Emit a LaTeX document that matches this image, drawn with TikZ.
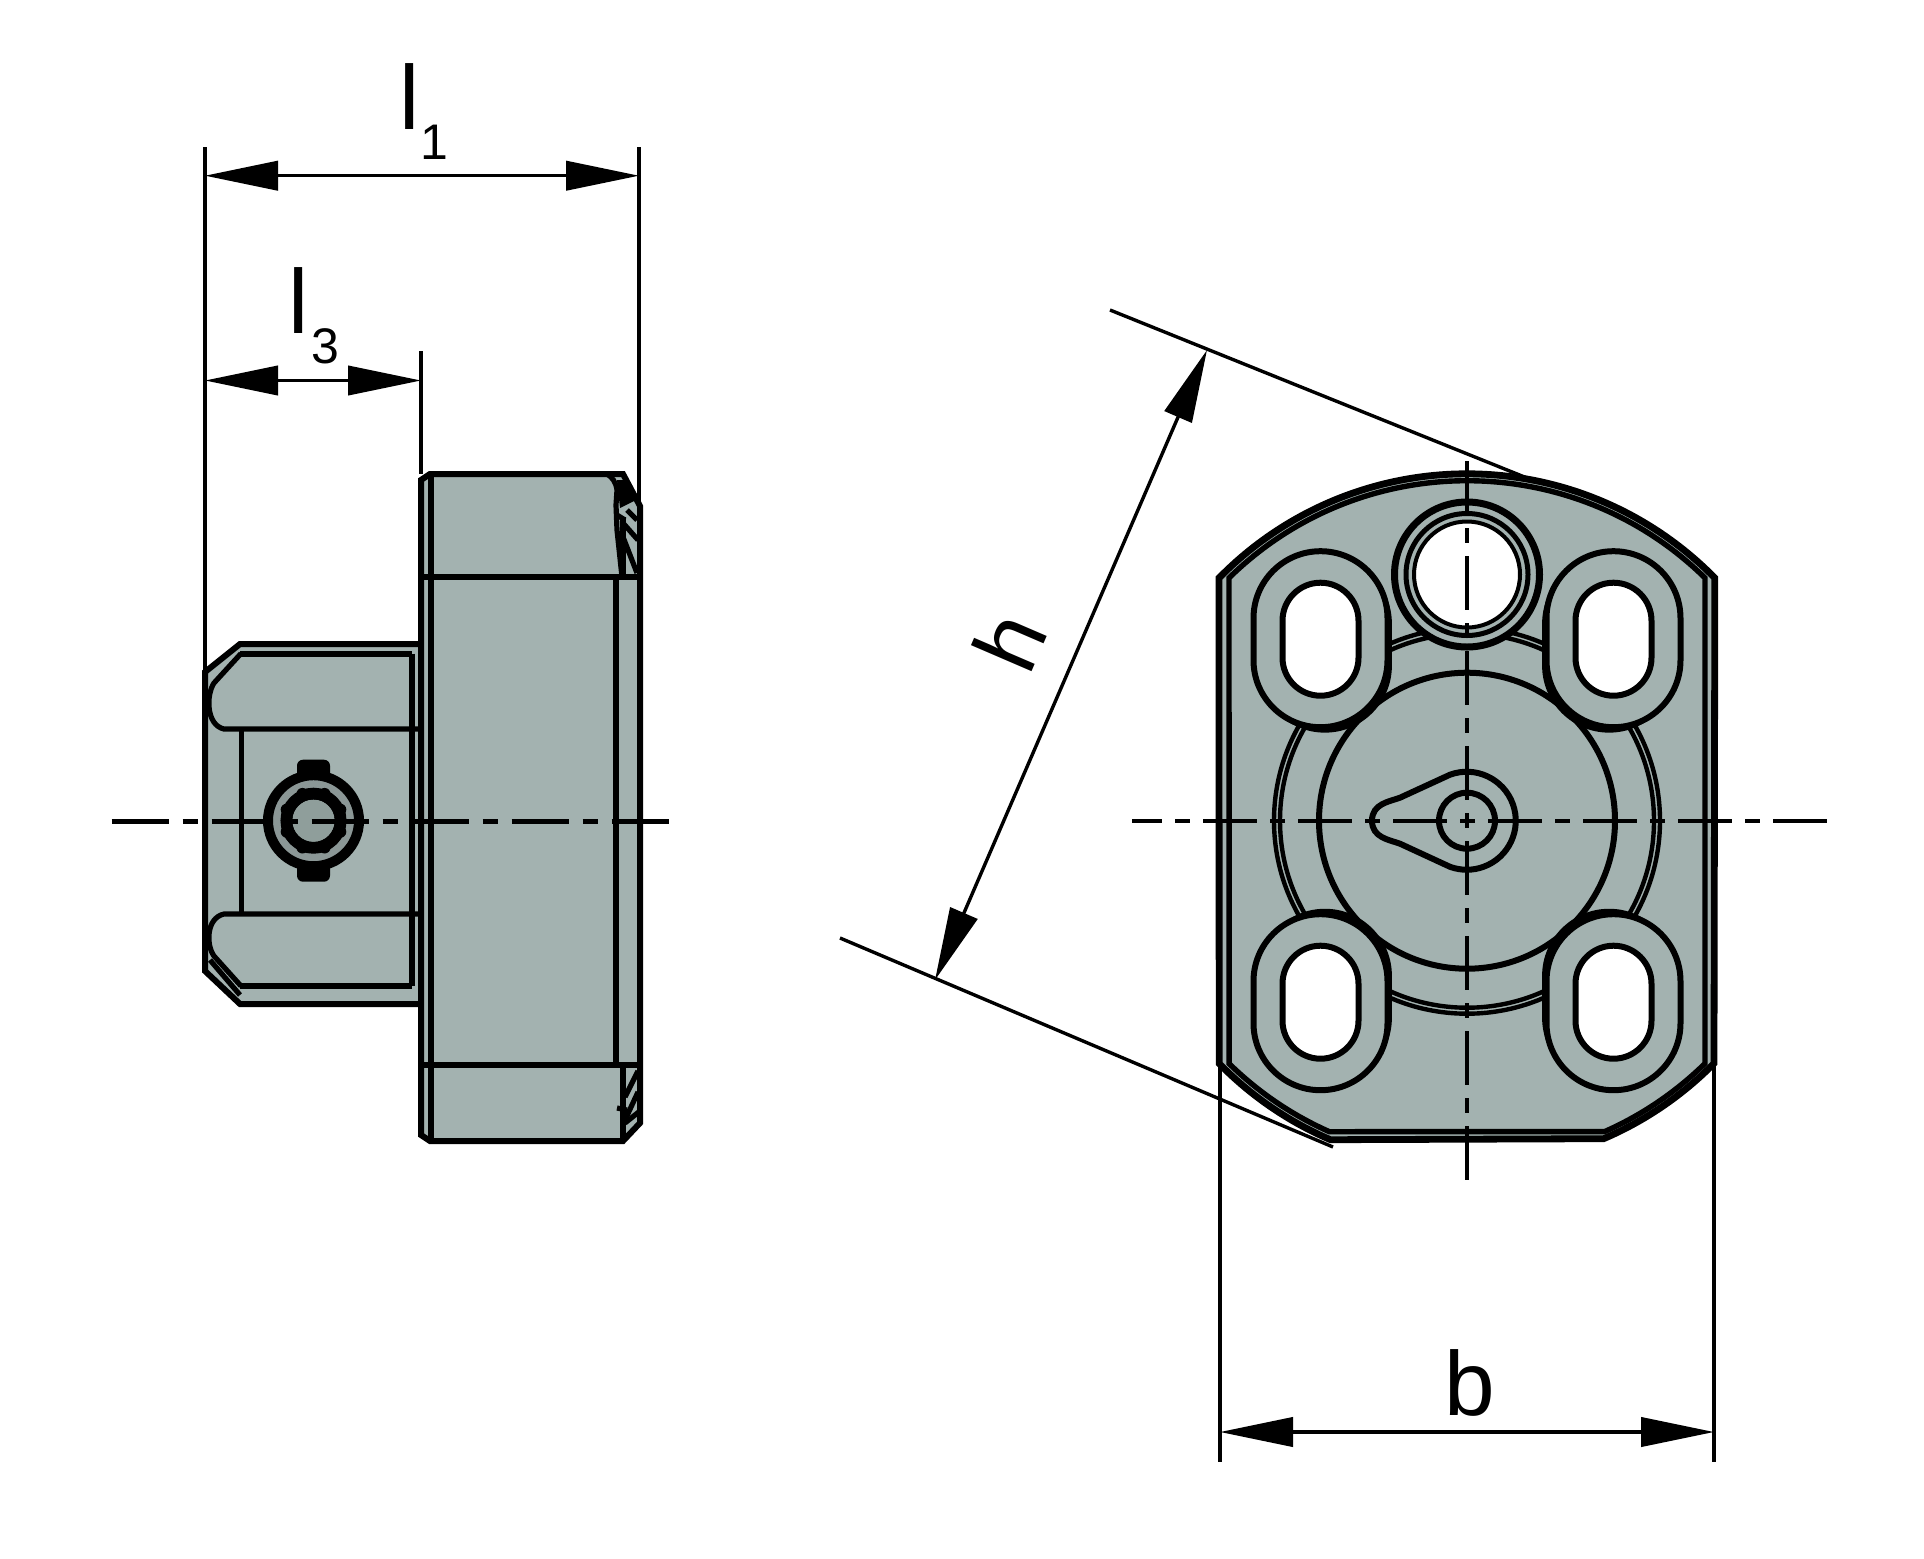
\documentclass[tikz,border=0pt]{standalone}
\usepackage{fontspec}
\setmainfont{Liberation Sans}
\usetikzlibrary{arrows.meta}
\definecolor{bodygray}{HTML}{A3B2B0}
\definecolor{boltgray}{HTML}{8F9E9B}
\tikzset{
  ol/.style={line width=3pt,line join=miter,black},
  ln/.style={line width=2.6pt,black},
  thin2/.style={line width=2.2pt,black},
  dimext/.style={line width=1.7pt,black},
  dimline/.style={line width=1.7pt,black,{Triangle[length=36.5pt,width=14.6pt]}-{Triangle[length=36.5pt,width=14.6pt]}},
  axisL/.style={line width=2.2pt,black,dash pattern=on 28.5pt off 7pt on 7.5pt off 7pt},
  axisR/.style={line width=2.2pt,black,dash pattern=on 27pt off 6.5pt on 7.5pt off 6.5pt},
  big/.style={inner sep=0pt,font=\fontsize{45.5}{50}\selectfont},
  small/.style={inner sep=0pt,font=\fontsize{25}{28}\selectfont},
  slotout/.style={ol,fill=bodygray,rounded corners=33.5pt},
  slotin/.style={ol,fill=white,rounded corners=19pt}
}
\begin{document}
\begin{tikzpicture}[x=0.5pt,y=-0.5pt]
\useasboundingbox (0,0) rectangle (1924,1559);
% ---------- extension lines, left view
\coordinate (e1a) at (205,147); \coordinate (e1b) at (205,672);
\coordinate (e2a) at (639,147); \coordinate (e2b) at (639,506);
\coordinate (e3a) at (421,351); \coordinate (e3b) at (421,474);
\draw[dimext] (e1a) -- (e1b);
\draw[dimext] (e2a) -- (e2b);
\draw[dimext] (e3a) -- (e3b);
\coordinate (d1a) at (205,175.7); \coordinate (d1b) at (639,175.7);
\coordinate (d3a) at (205,380.5); \coordinate (d3b) at (421,380.5);
\draw[dimline] (d1a) -- (d1b);
\draw[dimline] (d3a) -- (d3b);
\node[big,anchor=base west] (tl1) at (399,129) {l};
\node[small,anchor=base] (ts1) at (434.5,159) {1};
\node[big,anchor=base west] (tl3) at (288,333) {l};
\node[small,anchor=base] (ts3) at (325,363) {3};
% ---------- stub, left view
\draw[ol,fill=bodygray] (205,672) -- (240,644) -- (421,644) -- (421,1004) -- (240,1004) -- (205,971) -- cycle;
\draw[ol] (240,653.5) -- (412,653.5);
\draw[ol] (240,986) -- (412,986);
\draw[ln] (241,653.5) -- (214,683) .. controls (206,695) and (206,725) .. (224,729) -- (421,729);
\draw[ln] (241,986) -- (214,956) .. controls (206,945) and (206,918) .. (224,914) -- (421,914);
\draw[ln] (210,960) -- (240,995);
\draw[ln] (241.7,729) -- (241.7,914);
\draw[ln] (412,653.5) -- (412,986);
% ---------- bolt
\begin{scope}[y=0.5pt,shift={(313.5,-820.7)}]
  \fill[black,rounded corners=3pt] (-16.5,-61) rectangle (16.5,61);
  \draw[line width=5pt,black,fill=bodygray!85!black] (0,0) circle[radius=45.5];
  \draw[line width=6pt,black,fill=boltgray] (0,0) circle[radius=27];
  \foreach \a in {22.5,67.5,...,360} \fill[black] (\a:29) circle[radius=6];
  \fill[boltgray] (0,0) circle[radius=21];
\end{scope}
% ---------- main body, left view
\draw[ol,fill=bodygray] (430,474) -- (607,474) -- (623,474) -- (640,506) -- (640,1123) -- (623,1141) -- (430,1141) -- (421,1135) -- (421,480) -- cycle;
\draw[ol] (431,474) -- (431,1141);
\draw[ol] (421,577) -- (640,577);
\draw[ol] (421,1065) -- (640,1065);
\draw[ol] (615.7,577) -- (615.7,1065);
\draw[ln] (607,474) .. controls (612,477) and (616,482) .. (617,490) -- (616,505) -- (617,530) -- (622,577);
\fill[black] (617,480) -- (628,480) -- (636,500) -- (620,508) -- cycle;
\draw[ln] (623,517) -- (623,577);
\draw[ln] (623,537) -- (637,573);
\draw[ln] (623,523) -- (638,540);
\draw[ln] (627,510) -- (637,520);
\draw[ln] (617,515) -- (625,520);
\draw[ln] (623,1065) -- (623,1141);
\draw[ln] (625,1097) -- (638,1071);
\draw[ln] (625,1120) -- (638,1092);
\draw[ln] (625,1123) -- (640,1111);
\draw[ln] (617,1108) -- (627,1110);
% ---------- axis, left view
\coordinate (axLa) at (111.7,821.5); \coordinate (axLb) at (672,821.5);
\draw[axisL] (axLa) -- (axLb);
% ---------- right view
\begin{scope}[y=0.5pt,shift={(1467,-820.7)}]
  \draw[line width=3.4pt,black,fill=bodygray] (-248,242.7) arc[start angle=135.6,end angle=44.4,radius=347]
     -- (247,-242.7) arc[start angle=-44.6,end angle=-66.8,radius=347]
     -- (-136.6,-319) arc[start angle=-113.2,end angle=-135.6,radius=347] -- cycle;
  \draw[line width=2.7pt,black] (-238,242.8) arc[start angle=134.43,end angle=45.57,radius=340]
     -- (238,-242.8) arc[start angle=-45.57,end angle=-66.1,radius=340]
     -- (-137.6,-311) arc[start angle=-113.9,end angle=-134.43,radius=340] -- cycle;
  % stepped ring
  \draw[thin2] (0,0) circle[radius=193];
  \draw[thin2] (0,0) circle[radius=187];
  \draw[ol,fill=bodygray] (0,0) circle[radius=148];
  % slots
  \foreach \sx/\sy in {-146.5/181.5,146.5/181.5,-146.5/-181.5,146.5/-181.5}{
    \fill[black,rounded corners=33.5pt,shift={({\sx*0.97},{\sy*0.97})}] (-67,-88) rectangle (67,88);
    \begin{scope}[shift={(\sx,\sy)}]
      \draw[slotout] (-67,-88) rectangle (67,88);
      \draw[slotin] (-38,-56.5) rectangle (38,56.5);
    \end{scope}}
  % top hole
  \begin{scope}[shift={(0,246.2)}]
    \draw[line width=3.5pt,black,fill=bodygray] (0,0) circle[radius=72.5];
    \draw[line width=2.5pt,black,fill=bodygray] (0,0) circle[radius=61];
    \draw[line width=2pt,black,fill=white] (0,0) circle[radius=53];
  \end{scope}
  % cam
  \draw[ol] (-17,46) arc[start angle=110,end angle=-110,radius=49]
     -- (-67,-23)
     .. controls (-78,-19) and (-95,-17) .. (-95,0)
     .. controls (-95,17) and (-78,19) .. (-67,23)
     -- cycle;
  \draw[ol] (0,0) circle[radius=28];
\end{scope}
% ---------- axes, right view
\coordinate (axRa) at (1132,820.7); \coordinate (axRb) at (1831,820.7);
\coordinate (axVa) at (1467,461.2); \coordinate (axVb) at (1467,1180);
\draw[axisR,dash phase=12pt] (axRa) -- (axRb);
\draw[axisR] (axVa) -- (axVb);
% ---------- dimensions, right view
\coordinate (bea) at (1220,1063); \coordinate (beb) at (1220,1462);
\coordinate (bfa) at (1714,1065); \coordinate (bfb) at (1714,1462);
\draw[dimext] (bea) -- (beb);
\draw[dimext] (bfa) -- (bfb);
\coordinate (bda) at (1220,1432); \coordinate (bdb) at (1714,1432);
\draw[dimline] (bda) -- (bdb);
\node[big,anchor=base west] (tb) at (1444,1415) {b};
\coordinate (hua) at (1110,310); \coordinate (hub) at (1527,478);
\coordinate (hla) at (840,938); \coordinate (hlb) at (1333,1147);
\draw[dimext] (hua) -- (hub);
\draw[dimext] (hla) -- (hlb);
\coordinate (hda) at (1207,350); \coordinate (hdb) at (935,980);
\draw[dimline] (hda) -- (hdb);
\node[big,rotate=66.7] (th) at (1009,641) {h};
\end{tikzpicture}
\end{document}
